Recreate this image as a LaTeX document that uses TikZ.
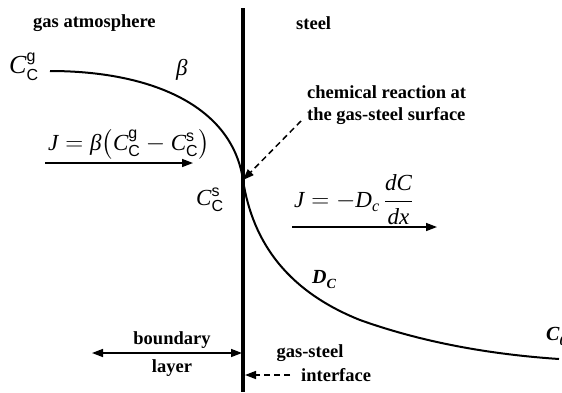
\documentclass[tikz,border=0pt]{standalone}
\usepackage{fontspec}
\usepackage{amsmath}
\setmainfont{Liberation Serif}
\setsansfont{Liberation Sans}
\usetikzlibrary{arrows.meta}
\tikzset{
  lbl/.style={font=\fontsize{18.5}{21}\selectfont\bfseries, inner sep=0pt},
  eq/.style={font=\fontsize{23}{26}\selectfont, inner sep=0pt},
  tip/.style={-{Triangle[length=11pt,width=8pt]}},
  flow/.style={line width=1.5pt, tip},
  dsh/.style={line width=1.5pt, dash pattern=on 6pt off 4pt, tip},
  curve/.style={line width=2pt},
}
\newcommand{\Cgs}[1]{\text{\itshape C}^{\text{\sffamily\fontsize{16}{16}\selectfont #1}}_{\text{\sffamily\fontsize{16}{16}\selectfont C}}}
\begin{document}
\begin{tikzpicture}[x=1pt,y=-1pt]
\clip (0,0) rectangle (562,392);
\fill[white] (0,0) rectangle (562,392);
% interface line
\coordinate (top) at (243,8);
\coordinate (bot) at (243,392);
\draw[line width=4pt] (top) -- (bot);
\coordinate (mid) at (243,180);
% headings
\node[lbl, anchor=west] (ga) at (33,23) {gas atmosphere};
\node[lbl, anchor=west] (st) at (296,23) {steel};
% curve
\coordinate (c0) at (50,71);
\coordinate (c1) at (360,320);
\coordinate (c2) at (559,359);
\draw[curve] (c0) .. controls (150,71) and (232,105) .. (mid)
  .. controls (253,245) and (290,292) .. (c1)
  .. controls (430,345) and (500,355) .. (c2);
% labels on curve
\node[eq, font=\fontsize{26}{28}\selectfont, anchor=west] (cg) at (9,67) {$\Cgs{g}$};
\node[eq, anchor=west] (beta) at (176,70) {\itshape β};
\node[eq, anchor=west] (cs) at (196,200) {$\Cgs{s}$};
\node[eq, font=\fontsize{20}{22}\selectfont\bfseries\itshape, anchor=west] (dc) at (312,280) {D\raisebox{-0.25em}{\fontsize{14}{14}\selectfont C}};
\node[eq, font=\fontsize{20}{22}\selectfont\bfseries\itshape, anchor=west] (cz) at (546,336) {C\raisebox{-0.25em}{\fontsize{14}{14}\selectfont 0}};
% left flux
\node[eq, anchor=west] (j1) at (48,144) {$\text{\itshape J} = \text{\itshape β}\bigl(\Cgs{g} - \Cgs{s}\bigr)$};
\coordinate (a1s) at (45,163);
\coordinate (a1e) at (193,163);
\draw[flow] (a1s) -- (a1e);
% right flux
\node[eq, anchor=west] (j2) at (294,200) {$\text{\itshape J} = -\text{\itshape D}_{\text{\itshape c}}\,\dfrac{\text{\itshape dC}}{\text{\itshape dx}}$};
\coordinate (a2s) at (292,227);
\coordinate (a2e) at (437,227);
\draw[flow] (a2s) -- (a2e);
% chemical reaction
\node[lbl, anchor=west, align=left] (chem) at (307,105) {chemical reaction at\\[1pt]the gas-steel surface};
\coordinate (d1) at (301,121);
\draw[dsh] (d1) -- (mid);
% boundary layer
\node[lbl] (bd) at (172,340) {boundary};
\node[lbl] (ly) at (172,368) {layer};
\coordinate (bl) at (92,353);
\coordinate (br) at (242,353);
\draw[line width=1.5pt, {Triangle[length=11pt,width=8pt]}-{Triangle[length=11pt,width=8pt]}] (bl) -- (br);
% gas-steel interface
\node[lbl] (gs) at (310,353) {gas-steel};
\node[lbl, anchor=west] (itf) at (301,375) {interface};
\coordinate (ds) at (290,375);
\coordinate (ie) at (245,375);
\draw[dsh] (ds) -- (ie);
\end{tikzpicture}
\end{document}
